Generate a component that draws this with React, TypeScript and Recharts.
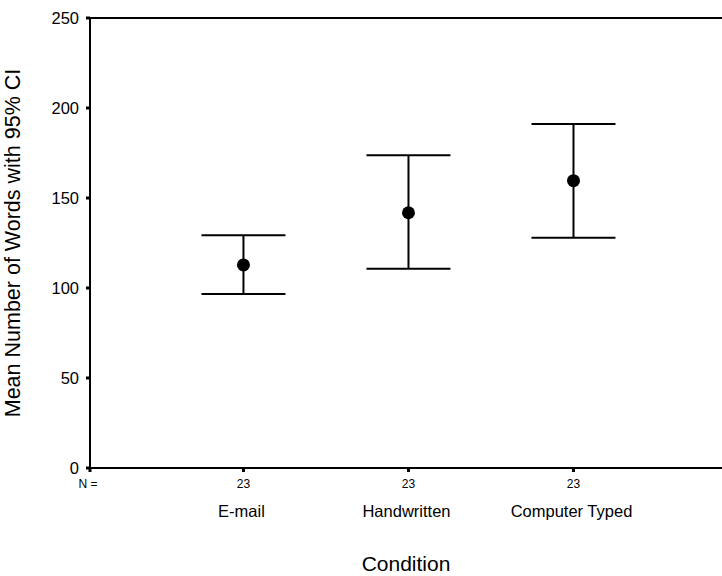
import React from 'react';
import { ScatterChart, Scatter, XAxis, YAxis, ErrorBar, ReferenceLine, Label } from 'recharts';

const conditions = ['E-mail', 'Handwritten', 'Computer Typed'];
const groupN = [23, 23, 23];
const means = [112.8, 141.8, 159.6];
const ciLow = [96.7, 110.7, 127.9];
const ciHigh = [129.3, 173.7, 191.1];
const yTicks = [0, 50, 100, 150, 200, 250];

// x positions: conditions sit at 1,2,3; the left edge holds the "N =" row label
const X_MIN = 0.07;
const X_MAX = 3.9;

const FONT = '"Liberation Sans", Arial, sans-serif';

const points = conditions.map((name, i) => ({
  x: i + 1,
  name,
  n: groupN[i],
  mean: means[i],
  ci: [means[i] - ciLow[i], ciHigh[i] - means[i]],
}));

const ConditionTick = (props: any) => {
  const { x, y, payload } = props;
  const idx = Math.round(payload.value) - 1;
  if (idx < 0 || idx >= conditions.length) {
    return (
      <text x={x - 2} y={y + 16} textAnchor="middle" fontFamily={FONT} fontSize={12} fill="#000">
        N =
      </text>
    );
  }
  return (
    <g>
      <text x={x} y={y + 16} textAnchor="middle" fontFamily={FONT} fontSize={12} fill="#000">
        {groupN[idx]}
      </text>
      <text x={x - 2} y={y + 45} textAnchor="middle" fontFamily={FONT} fontSize={16.5} fill="#000">
        {conditions[idx]}
      </text>
    </g>
  );
};

const YTitle = (props: any) => {
  const vb = props.viewBox;
  const cx = vb.x + 20;
  const cy = vb.y + vb.height / 2;
  return (
    <text
      x={cx}
      y={cy}
      textAnchor="middle"
      fontFamily={FONT}
      fontSize={21.5}
      fill="#000"
      transform={`rotate(-90, ${cx}, ${cy})`}
    >
      Mean Number of Words with 95% CI
    </text>
  );
};

export default function App() {
  return (
    <div style={{ position: 'absolute', left: 0, top: 0, width: 722, height: 576, background: '#fff' }}>
      <ScatterChart width={722} height={576} margin={{ top: 18, right: 0, bottom: 0, left: 0 }}>
        <XAxis
          dataKey="x"
          type="number"
          domain={[X_MIN, X_MAX]}
          ticks={[X_MIN, 1, 2, 3]}
          allowDataOverflow
          height={108}
          axisLine={{ stroke: '#000', strokeWidth: 2 }}
          tickLine={{ stroke: '#000', strokeWidth: 3 }}
          tickSize={4}
          tickMargin={0}
          tick={<ConditionTick />}
        >
          <Label value="Condition" position="insideBottom" offset={5} fontFamily={FONT} fontSize={21} fill="#000" />
        </XAxis>
        <YAxis
          dataKey="mean"
          type="number"
          domain={[0, 250]}
          ticks={yTicks}
          width={90}
          axisLine={{ stroke: '#000', strokeWidth: 2 }}
          tickLine={{ stroke: '#000', strokeWidth: 3 }}
          tickSize={4}
          tickMargin={7}
          tick={{ fill: '#000', fontFamily: FONT, fontSize: 16.5 }}
        >
          <Label content={<YTitle />} />
        </YAxis>
        <ReferenceLine y={250} stroke="#000" strokeWidth={2} />
        <Scatter data={points} fill="#000" isAnimationActive={false} shape={(p: any) => <circle cx={p.cx} cy={p.cy} r={6.5} fill="#000" />}>
          <ErrorBar dataKey="ci" direction="y" width={42} stroke="#000" strokeWidth={2} isAnimationActive={false} />
        </Scatter>
      </ScatterChart>
    </div>
  );
}
